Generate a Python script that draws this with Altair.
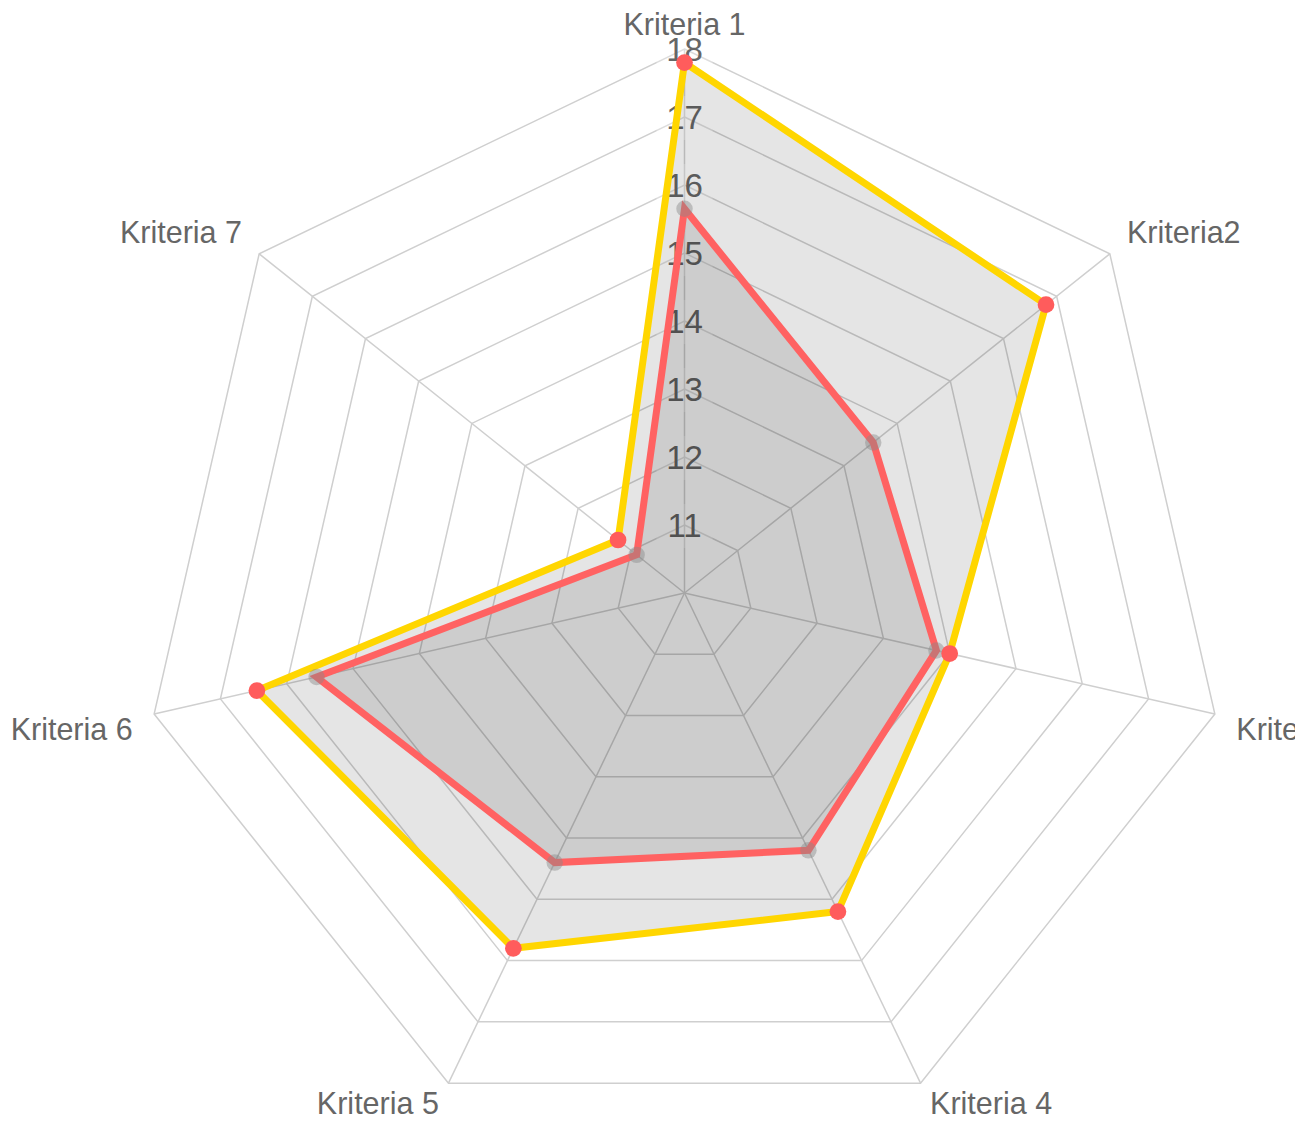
import math
import altair as alt
import pandas as pd

# ---------------- data ----------------
categories = ["Kriteria 1", "Kriteria2", "Kriteria 3", "Kriteria 4",
              "Kriteria 5", "Kriteria 6", "Kriteria 7"]
series_yellow = [17.8, 16.8, 14.0, 15.2, 15.8, 16.45, 11.25]
series_red = [15.65, 13.55, 13.8, 14.2, 14.4, 15.55, 10.9]
tick_values = [11, 12, 13, 14, 15, 16, 17, 18]
scale_min = 10
scale_max = 18

# ---------------- layout helpers ----------------
W, H = 1287, 1110          # plot area (px)
CX, CY = 676.5, 585.0      # centre of radar in plot px
PX = 68.0                  # px per value unit
N = len(categories)
LABEL_PAD_X = 22.0 / PX    # gap between outer ring and point labels
LABEL_PAD_Y = 8.0 / PX
HALF_TXT = 15.0 / PX

x_dom = [-CX / PX, (W - CX) / PX]
y_dom = [-(H - CY) / PX, CY / PX]
xs = alt.Scale(domain=x_dom, range=[0, W], nice=False, zero=False)
ys = alt.Scale(domain=y_dom, range=[H, 0], nice=False, zero=False)


def pol(v, i):
    r = v - scale_min
    th = 2 * math.pi * i / N
    return r * math.sin(th), r * math.cos(th)


# rings
ring_rows = []
for t in tick_values:
    for i in range(N):
        x, y = pol(t, i)
        ring_rows.append({"ring": t, "o": i, "x": x, "y": y})
rings = pd.DataFrame(ring_rows)

# spokes
spoke_rows = []
for i in range(N):
    x, y = pol(scale_max, i)
    spoke_rows.append({"x": 0.0, "y": 0.0, "x2": x, "y2": y})
spokes = pd.DataFrame(spoke_rows)


def series_frame(vals):
    rows = []
    for i, v in enumerate(vals):
        x, y = pol(v, i)
        rows.append({"cat": categories[i], "value": v, "o": i, "x": x, "y": y})
    return pd.DataFrame(rows)


yellow = series_frame(series_yellow)
red = series_frame(series_red)

# tick labels
ticks = pd.DataFrame([{"label": str(t), "x": 0.0, "y": t - scale_min - 2 / PX,
                       "x1": -28 / PX, "x2": 28 / PX,
                       "y1": t - scale_min - 23 / PX, "y2": t - scale_min + 21 / PX}
                      for t in tick_values])

# point labels (Chart.js-like placement)
lab_rows = []
for i, c in enumerate(categories):
    ang = 360.0 * i / N
    th = math.radians(ang)
    rx = scale_max - scale_min + LABEL_PAD_X
    ry = scale_max - scale_min + LABEL_PAD_Y
    x, y = rx * math.sin(th), ry * math.cos(th)
    if ang == 0 or ang == 180:
        align = "center"
    elif ang < 180:
        align = "left"
    else:
        align = "right"
    if ang < 90 or ang > 270:
        y += HALF_TXT
    elif 90 < ang < 270:
        y -= HALF_TXT
    lab_rows.append({"label": c, "x": x, "y": y, "align": align})
labels = pd.DataFrame(lab_rows)

FONT = "Liberation Sans"
X = alt.X("x:Q", scale=xs, axis=None)
Y = alt.Y("y:Q", scale=ys, axis=None)

ring_layer = alt.Chart(rings).mark_line(
    interpolate="linear-closed", stroke="#cfcfcf", strokeWidth=1.5
).encode(x=X, y=Y, detail="ring:N", order="o:Q")

spoke_layer = alt.Chart(spokes).mark_rule(stroke="#cfcfcf", strokeWidth=1.5).encode(
    x=X, y=Y, x2="x2:Q", y2="y2:Q")

backdrop = alt.Chart(ticks).mark_rect(fill="white", opacity=0.3).encode(
    x=alt.X("x1:Q", scale=xs, axis=None), x2="x2:Q",
    y=alt.Y("y1:Q", scale=ys, axis=None), y2="y2:Q")

tick_text = alt.Chart(ticks).mark_text(
    font=FONT, fontSize=33, color="#666666", align="center", baseline="middle"
).encode(x=X, y=Y, text="label:N")


def area_line(df, color):
    return alt.Chart(df).mark_line(
        interpolate="linear-closed", stroke=color, strokeWidth=7,
        fill="black", fillOpacity=0.1
    ).encode(x=X, y=Y, order="o:Q")


yellow_line = area_line(yellow, "#FFD600")
red_line = area_line(red, "#FF6262")

red_pts = alt.Chart(red).mark_point(
    filled=True, shape="circle", size=270, fill="#8a8a8a", fillOpacity=0.45, strokeWidth=0
).encode(x=X, y=Y)
yellow_pts = alt.Chart(yellow).mark_point(
    filled=True, shape="circle", size=280, fill="#FF5C5C", fillOpacity=1, strokeWidth=0
).encode(x=X, y=Y)

label_layers = []
for al in ["left", "center", "right"]:
    sub = labels[labels["align"] == al]
    label_layers.append(
        alt.Chart(sub).mark_text(
            font=FONT, fontSize=30.5, color="#666666", align=al, baseline="middle",
            clip=(al == "left")
        ).encode(x=X, y=Y, text="label:N")
    )

chart = alt.layer(
    ring_layer, spoke_layer, backdrop, tick_text,
    yellow_line, red_line, red_pts, yellow_pts, *label_layers
).properties(width=W, height=H, padding=0, background="white").configure_view(stroke=None)

chart.save("out.html", embed_options={"renderer": "svg", "actions": False})
